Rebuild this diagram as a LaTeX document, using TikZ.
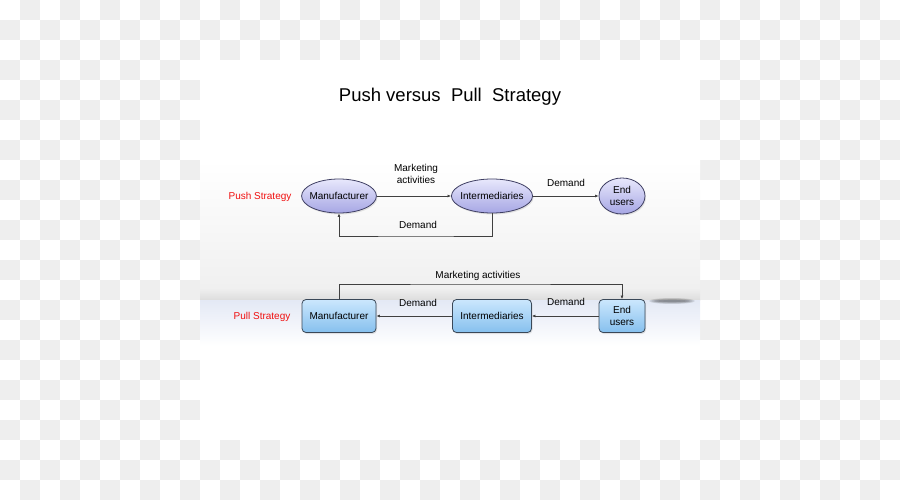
\documentclass[tikz,border=0pt]{standalone}
\usepackage{fontspec}
\setmainfont{Liberation Sans}
\usetikzlibrary{arrows.meta,shapes.geometric,shadows}
\definecolor{checker}{HTML}{EEEEEE}
\definecolor{ovaltop}{HTML}{E8E8FC}
\definecolor{ovalbot}{HTML}{A6A6E4}
\definecolor{ovalline}{HTML}{3E3E62}
\definecolor{boxtop}{HTML}{CBE7FD}
\definecolor{boxbot}{HTML}{86C0EE}
\definecolor{boxline}{HTML}{3A4858}
\definecolor{lineclr}{HTML}{404040}
\definecolor{stratred}{HTML}{F01010}
\definecolor{bandgray}{HTML}{F0F0F0}
\definecolor{banddark}{HTML}{DCDCDC}
\definecolor{bandblue}{HTML}{E4E9F5}

\begin{document}
\begin{tikzpicture}[x=1pt, y=-1pt,
      every node/.style = {font=\fontsize{10}{12}\selectfont, text=black},
      oval/.style = {ellipse, draw=ovalline, line width=0.8pt, top color=ovaltop,
            bottom color=ovalbot, inner xsep=-3pt, inner ysep=0pt, align=center,
            minimum height=34pt,
            drop shadow={opacity=0.2, shadow xshift=1pt, shadow yshift=-1.5pt}},
      box/.style = {rectangle, rounded corners=4pt, draw=boxline, line width=0.8pt,
            top color=boxtop, bottom color=boxbot, align=center, minimum height=33pt,
            drop shadow={opacity=0.2, shadow xshift=1pt, shadow yshift=-1.5pt}},
      flow/.style = {draw=lineclr, line width=0.7pt, -{Latex[length=3.5pt, width=3pt]}},
      strat/.style = {text=stratred}
      ]
      \useasboundingbox (0,0) rectangle (900,500);
      \foreach \i in {0,...,44}
            \foreach \j in {0,...,24}
                  {\ifodd\numexpr\i+\j\relax \fill[checker] (\i*20,\j*20) rectangle ++(20,20); \fi}
      \fill[white] (200,60) rectangle (700,440);
      \fill[top color=white, bottom color=bandgray] (200,160) rectangle (700,288);
      \fill[top color=bandgray, bottom color=banddark] (200,288) rectangle (700,300.5);
      \fill[top color=bandblue, bottom color=white] (200,300.5) rectangle (700,346);
      \foreach \k in {1,...,5}
            \fill[black, opacity=0.1] (672,301) ellipse ({13+2*\k} and {0.6*\k});

      \node (title) at (450,97) {\fontsize{18.5}{22}\selectfont Push versus\ \ Pull\ \ Strategy};

      \node[strat] (push) at (260,197) {Push Strategy};
      \node[oval, minimum width=74pt] (man) at (339,196) {Manufacturer};
      \node[oval, minimum width=80pt] (inter) at (492,196) {Intermediaries};
      \node[oval, minimum width=46pt, minimum height=36pt] (endu) at (622,196) {End\\users};
      \coordinate (fb) at (416,236);
      \draw[flow] (man) -- (inter);
      \draw[flow] (inter) -- (endu);
      \draw[flow] (inter.south) |- (fb) -| (man.south);
      \node (mk) at (416,174) [align=center, font=\fontsize{10}{11.5}\selectfont] {Marketing\\activities};
      \node (dm1) at (566,183) {Demand};
      \node (dm2) at (418,225) {Demand};

      \node[strat] (pull) at (262,317) {Pull Strategy};
      \node[box, minimum width=74pt] (pman) at (339,316) {Manufacturer};
      \node[box, minimum width=79pt] (pinter) at (492,316) {Intermediaries};
      \node[box, minimum width=46pt] (pendu) at (622,316) {End\\users};
      \coordinate (pmk) at (480,284);
      \draw[flow] (pendu) -- (pinter);
      \draw[flow] (pinter) -- (pman);
      \draw[flow] (pman.north) |- (pmk) -| (pendu.north);
      \node (pmkl) at (478,276) {Marketing activities};
      \node (pdm1) at (418,303) {Demand};
      \node (pdm2) at (566,302) {Demand};
\end{tikzpicture}
\end{document}
